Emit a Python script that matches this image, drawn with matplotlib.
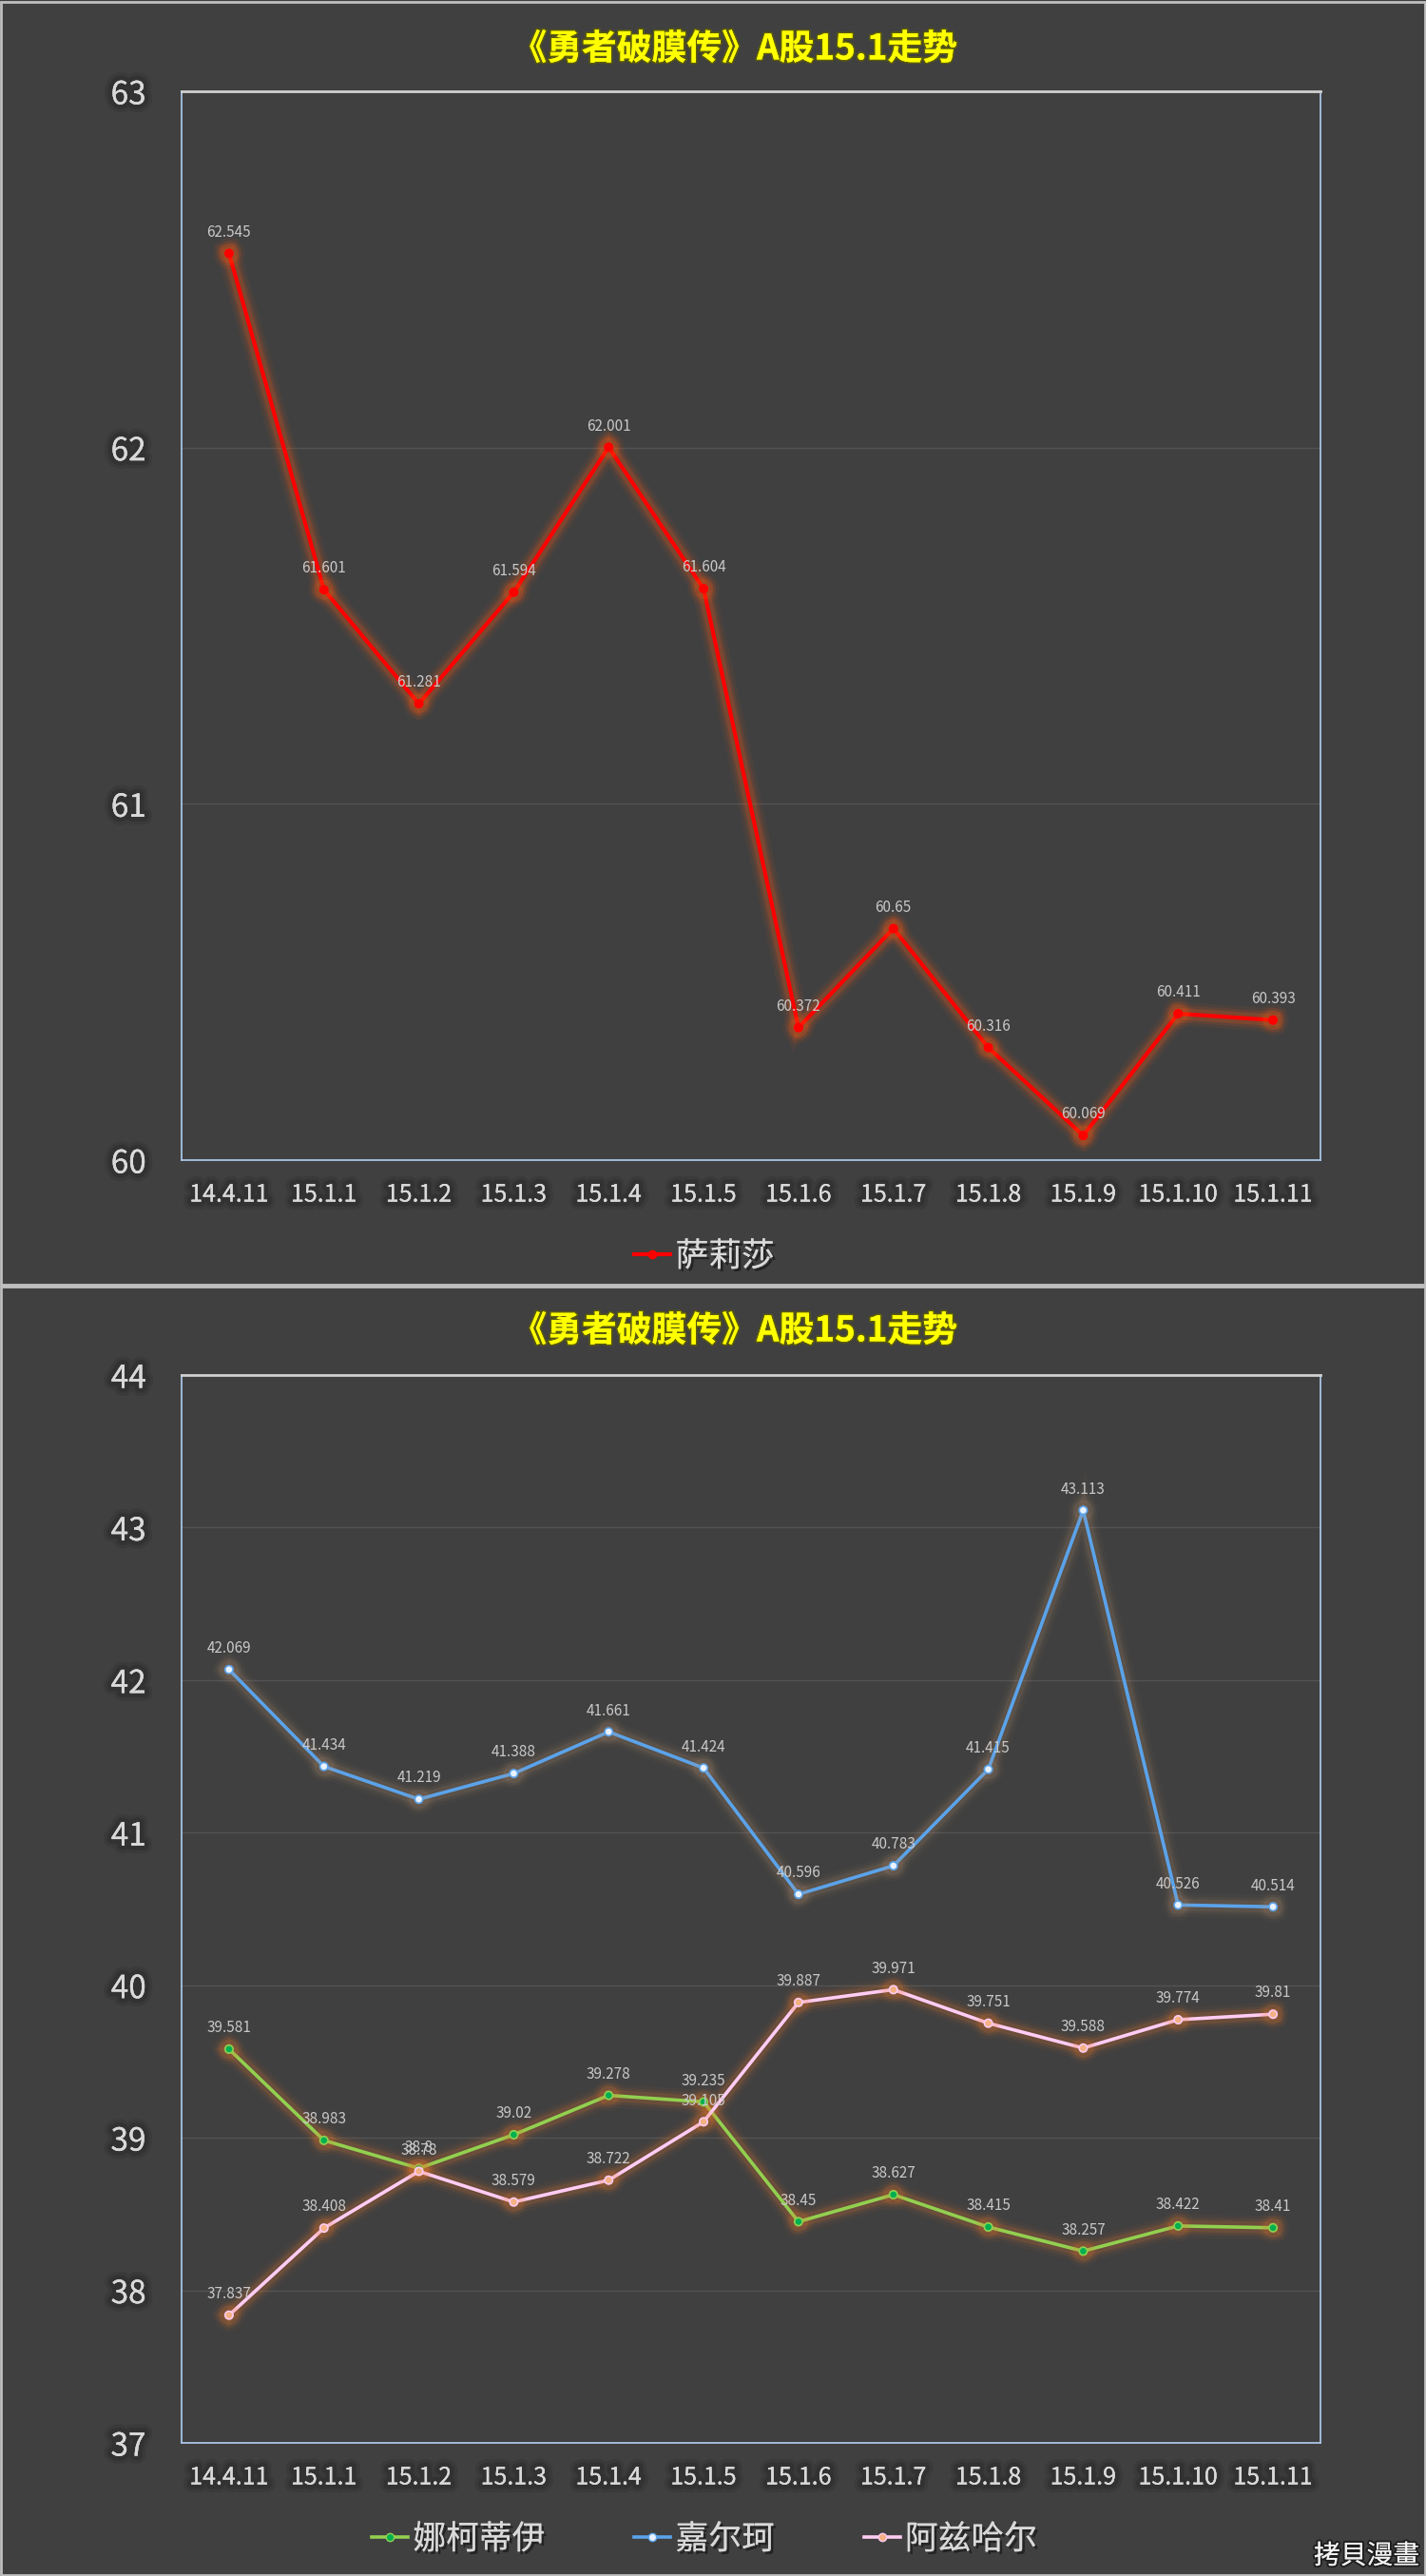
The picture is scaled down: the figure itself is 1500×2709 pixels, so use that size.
import matplotlib
matplotlib.use("Agg")
import matplotlib.pyplot as plt
import matplotlib.patheffects as pe
from matplotlib.lines import Line2D
from matplotlib.patches import Rectangle

plt.rcParams['font.family'] = ['Noto Sans CJK SC', 'DejaVu Sans']

# ---------------- data ----------------
categories = ["14.4.11", "15.1.1", "15.1.2", "15.1.3", "15.1.4", "15.1.5",
              "15.1.6", "15.1.7", "15.1.8", "15.1.9", "15.1.10", "15.1.11"]
title_text = "《勇者破膜传》A股15.1走势"

salisha = [62.545, 61.601, 61.281, 61.594, 62.001, 61.604,
           60.372, 60.65, 60.316, 60.069, 60.411, 60.393]
nakediyi = [39.581, 38.983, 38.8, 39.02, 39.278, 39.235,
            38.45, 38.627, 38.415, 38.257, 38.422, 38.41]
jiaerke = [42.069, 41.434, 41.219, 41.388, 41.661, 41.424,
           40.596, 40.783, 41.415, 43.113, 40.526, 40.514]
azihaer = [37.837, 38.408, 38.78, 38.579, 38.722, 39.105,
           39.887, 39.971, 39.751, 39.588, 39.774, 39.81]

top_series = [("萨莉莎", salisha)]
bottom_series = [("娜柯蒂伊", nakediyi), ("嘉尔珂", jiaerke), ("阿兹哈尔", azihaer)]

top_ylim = (60, 63)
top_yticks = [60, 61, 62, 63]
bot_ylim = (37, 44)
bot_yticks = [37, 38, 39, 40, 41, 42, 43, 44]

# ---------------- styles ----------------
BG = "#404040"
styles = {
    "萨莉莎": dict(color="#ff0000", mfc="#ff0000", mec="#ff0000", glow="#ff5a10", ga=1.2, lw=3.0),
    "娜柯蒂伊": dict(color="#92d050", mfc="#00b050", mec="#92d050", glow="#f07a2a", ga=0.9, lw=2.6),
    "嘉尔珂": dict(color="#5ba3ea", mfc="#e8f2ff", mec="#5ba3ea", glow="#c89a78", ga=0.7, lw=2.6),
    "阿兹哈尔": dict(color="#ffccf4", mfc="#f4b183", mec="#ffccf4", glow="#f07a2a", ga=0.9, lw=2.6),
}

W, H = 1500, 2709
fig = plt.figure(figsize=(W / 100, H / 100), dpi=100, facecolor=BG)

def fy(py):
    return 1 - py / H

# panel borders
fig.patches.append(Rectangle((0.0005, fy(1351)), 0.999, fy(2) - fy(1351), transform=fig.transFigure,
                             fill=False, edgecolor="#bfbfbf", lw=2.0, zorder=0))
fig.patches.append(Rectangle((0.0005, 0.0005), 0.999, fy(1353) - 0.0005, transform=fig.transFigure,
                             fill=False, edgecolor="#bfbfbf", lw=2.0, zorder=0))

tick_shadow = [pe.withStroke(linewidth=12, foreground="#1a1a1a", alpha=0.15),
               pe.withStroke(linewidth=7, foreground="#1a1a1a", alpha=0.22),
               pe.Normal()]
legend_shadow = [pe.withSimplePatchShadow(offset=(2, -2), shadow_rgbFace="#111111", alpha=0.6),
                 pe.Normal()]


def glow_effects(color, a):
    return [pe.Stroke(linewidth=18, foreground=color, alpha=0.05 * a),
            pe.Stroke(linewidth=13, foreground=color, alpha=0.09 * a),
            pe.Stroke(linewidth=9, foreground=color, alpha=0.16 * a),
            pe.Normal()]


def make_panel(rect, series, ylim, yticks, title_y, legend_y):
    ax = fig.add_axes(rect)
    ax.set_facecolor(BG)
    x = list(range(len(categories)))
    handles = []
    for name, vals in series:
        st = styles[name]
        ax.plot(x, vals, color=st["color"], lw=st["lw"], marker="o", ms=6,
                mfc=st["mfc"], mec=st["mec"], mew=1.2, zorder=3,
                path_effects=glow_effects(st["glow"], st["ga"]), solid_joinstyle="miter")
        for xi, v in zip(x, vals):
            ax.annotate(f"{v:g}", (xi, v), xytext=(0, 16), textcoords="offset points",
                        ha="center", va="center", fontsize=11, color="#c8c8c8", zorder=4)
        handles.append(Line2D([], [], color=st["color"], lw=st["lw"], marker="o", ms=6,
                              mfc=st["mfc"], mec=st["mec"], label=name))
    ax.set_xlim(-0.5, len(categories) - 0.5)
    ax.set_ylim(*ylim)
    ax.set_yticks(yticks)
    ax.set_xticks(x)
    ax.set_xticklabels(categories)
    ax.tick_params(axis="y", length=0, pad=27, labelsize=24, labelcolor="#d9d9d9")
    ax.tick_params(axis="x", length=0, pad=17, labelsize=18, labelcolor="#d9d9d9")
    for lab in ax.get_yticklabels():
        lab.set_path_effects(tick_shadow)
    for lab in ax.get_xticklabels():
        lab.set_path_effects(tick_shadow)
    ax.grid(axis="y", color="#535353", lw=1.0)
    ax.set_axisbelow(True)
    for s in ["left", "right", "bottom"]:
        ax.spines[s].set_color("#a9c4e4")
        ax.spines[s].set_linewidth(1.3)
    ax.spines["top"].set_color("#d0d0d0")
    ax.spines["top"].set_linewidth(2.0)

    fig.text(0.515, title_y, title_text, ha="center", va="center", fontsize=26.5,
             fontweight="bold", color="#ffff00",
             path_effects=[pe.withStroke(linewidth=2.5, foreground="#5a5a10"), pe.Normal()])

    leg = fig.legend(handles=handles, loc="center", bbox_to_anchor=(0.494, legend_y),
                     ncol=len(handles), frameon=False, fontsize=25, handlelength=1.1,
                     handletextpad=0.15, columnspacing=2.7, labelcolor="#d9d9d9")
    for t in leg.get_texts():
        t.set_path_effects(legend_shadow)
    return ax


make_panel([191 / W, fy(1220), (1389 - 191) / W, fy(96) - fy(1220)],
           top_series, top_ylim, top_yticks, fy(52), fy(1322))
make_panel([191 / W, fy(2569), (1389 - 191) / W, fy(1446) - fy(2569)],
           bottom_series, bot_ylim, bot_yticks, fy(1400), fy(2671))

fig.text(1493 / W, fy(2688), "拷貝漫畫", ha="right", va="center", fontsize=20, color="#f2f2f2",
         family=["Noto Sans CJK TC", "DejaVu Sans"],
         path_effects=[pe.withStroke(linewidth=3, foreground="#202020"), pe.Normal()])

fig.savefig("out.png", dpi=100, facecolor=BG)
